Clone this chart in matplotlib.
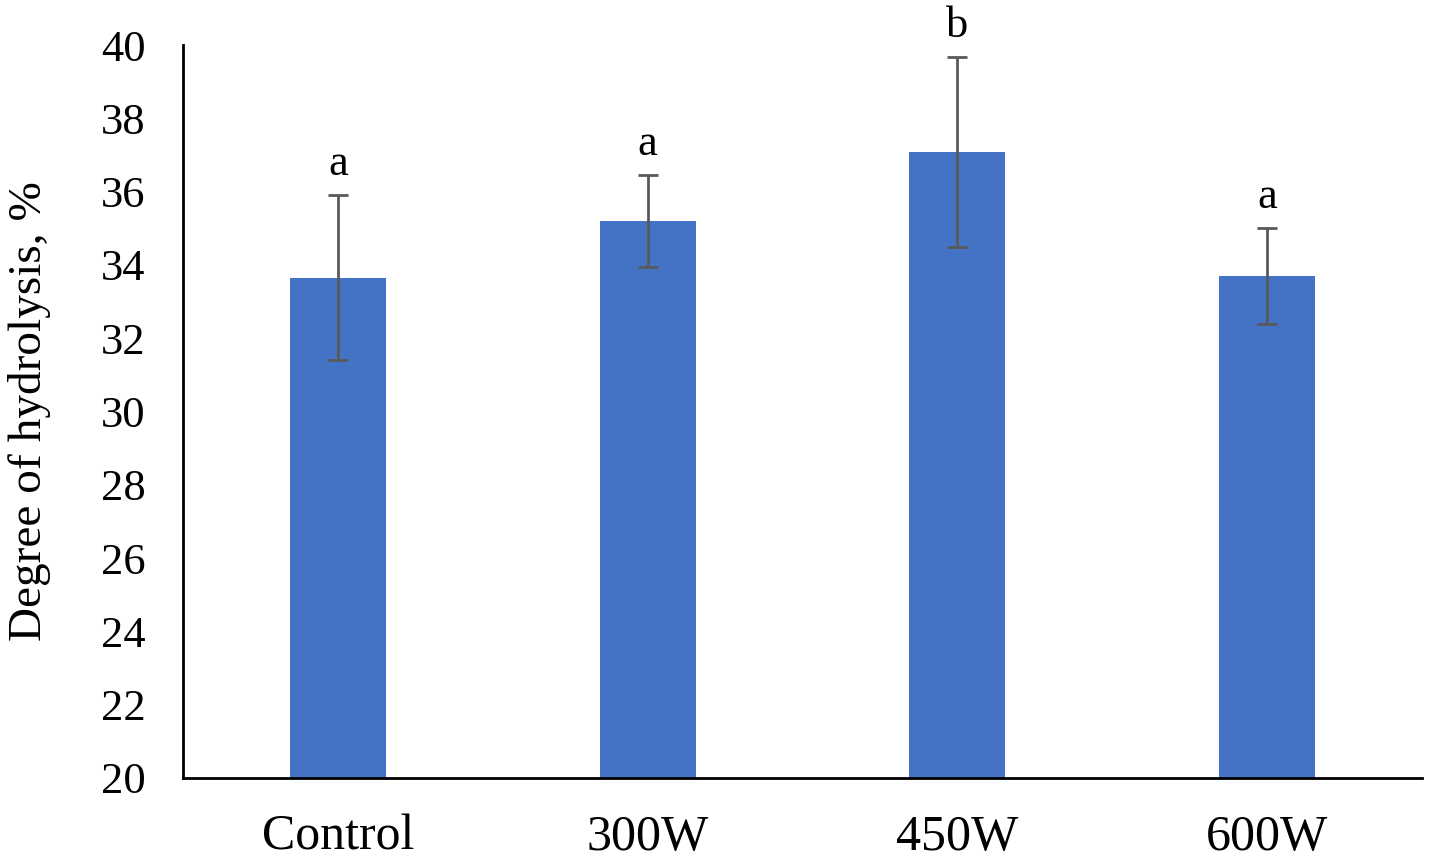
import matplotlib
matplotlib.use("Agg")
import matplotlib.pyplot as plt

categories = ["Control", "300W", "450W", "600W"]
dh_mean = [33.65, 35.2, 37.08, 33.7]
dh_err = [2.25, 1.25, 2.6, 1.32]
letters = ["a", "a", "b", "a"]

plt.rcParams['font.family'] = ['Liberation Serif', 'DejaVu Serif']

fig = plt.figure(figsize=(14.29, 8.61), dpi=100)
ax = fig.add_axes([0.128, 0.0964, 0.867, 0.8513])

x = range(len(categories))
ax.bar(x, dh_mean, width=0.31, color='#4472C4', zorder=2)
ax.errorbar(x, dh_mean, yerr=dh_err, fmt='none', ecolor='#595959',
            elinewidth=2, capsize=7, capthick=2, zorder=3)

for i in x:
    ax.text(i, dh_mean[i] + dh_err[i] + 0.3, letters[i], ha='center', va='bottom',
            fontsize=32)

ax.set_xlim(-0.5, 3.5)
ax.set_ylim(20, 40)
ax.set_yticks(range(20, 41, 2))
ax.set_xticks(list(x))
ax.set_xticklabels(categories)
ax.tick_params(axis='y', length=0, pad=27, labelsize=32)
ax.tick_params(axis='x', length=0, pad=26, labelsize=36)
ax.set_ylabel("Degree of hydrolysis, %", fontsize=34, labelpad=36)

for s in ['top', 'right']:
    ax.spines[s].set_visible(False)
for s in ['left', 'bottom']:
    ax.spines[s].set_linewidth(2)
    ax.spines[s].set_color('black')

fig.savefig("out.png", dpi=100)
